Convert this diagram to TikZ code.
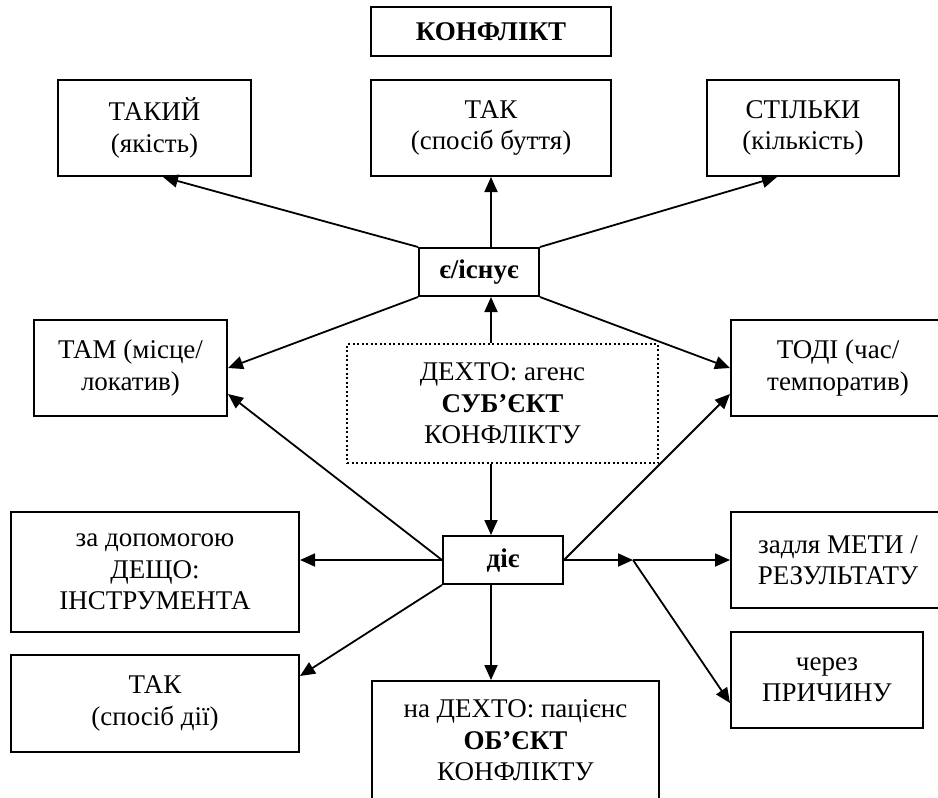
\documentclass[tikz,border=0pt]{standalone}
\usepackage{fontspec}
\setmainfont{Liberation Serif}
\usetikzlibrary{arrows.meta,calc}
\begin{document}
\begin{tikzpicture}[x=1pt,y=-1pt,
  box/.style={draw, line width=2pt, align=center, inner sep=0pt, font=\fontsize{27}{31.5}\selectfont},
  dotbox/.style={box, line width=1.7pt, dash pattern=on 2pt off 2.5pt},
  ln/.style={line width=1.8pt},
  arr/.style={ln, -{Triangle[length=15pt,width=13pt]}},
]
\useasboundingbox (0,0) rectangle (938,798);
\clip (0,0) rectangle (938,798);
\coordinate (v) at (491,0);
\node[box, minimum width=240pt, minimum height=49pt] (konf) at (491,31.5) {\textbf{КОНФЛІКТ}};
\node[box, minimum width=193pt, minimum height=96pt] (takyi) at (154.5,128) {ТАКИЙ\\(якість)};
\node[box, minimum width=240pt, minimum height=96pt] (tak1) at (491,128) {ТАК\\(спосіб буття)};
\node[box, minimum width=192pt, minimum height=96pt] (stilky) at (803,128) {СТІЛЬКИ\\(кількість)};
\node[box, minimum width=120pt, minimum height=48pt] (e) at (479,272) {\textbf{є/існує}};
\node[box, minimum width=193pt, minimum height=96pt] (tam) at (130.5,368) {ТАМ (місце/\\локатив)};
\node[box, minimum width=214pt, minimum height=96pt] (todi) at (838,368) {ТОДІ (час/\\темпоратив)};
\node[dotbox, minimum width=311pt, minimum height=119pt] (sub) at (502.5,403.5) {ДЕХТО: агенс\\\textbf{СУБ’ЄКТ}\\КОНФЛІКТУ};
\node[box, minimum width=288pt, minimum height=120pt] (zd) at (155,572) {за допомогою\\ДЕЩО:\\ІНСТРУМЕНТА};
\node[box, minimum width=120pt, minimum height=48pt] (d) at (503,560) {\textbf{діє}};
\node[box, minimum width=214pt, minimum height=96pt] (zm) at (838,560) {задля МЕТИ /\\РЕЗУЛЬТАТУ};
\node[box, minimum width=288pt, minimum height=97pt] (tak2) at (155,703.5) {ТАК\\(спосіб дії)};
\node[box, minimum width=192pt, minimum height=96pt] (pr) at (827,680) {через\\ПРИЧИНУ};
\node[box, minimum width=287pt, minimum height=119pt, anchor=north] (obj) at (515.5,680) {на ДЕХТО: пацієнс\\\textbf{ОБ’ЄКТ}\\КОНФЛІКТУ};
\coordinate (j) at (633,560);
% from є/існує
\draw[arr] (tak1.south |- e.north) -- (tak1.south);
\draw[arr] (e.north west) -- ([xshift=8.5pt]takyi.south);
\draw[arr] (e.north east) -- ([xshift=-26pt]stilky.south);
\draw[arr] (e.south west) -- (tam.east);
\draw[arr] (e.south east) -- (todi.west);
\draw[arr] (sub.north -| v) -- (e.south -| v);
% from діє
\draw[arr] (sub.south -| v) -- (d.north -| v);
\draw[arr] (d.west) -- ([yshift=23pt]tam.south east);
\draw[arr] (d.east) -- ([yshift=23pt]todi.south west);
\draw[arr] (d.west) -- (zd.east |- d.west);
\draw[arr] (d.south west) -- ([yshift=-22pt]tak2.north east);
\draw[arr] (d.south -| v) -- (obj.north -| v);
\draw[arr] (d.east) -- (j);
\draw[arr] (j) -- (zm.west);
\draw[arr] (j) -- ([yshift=26pt]pr.south west);
\end{tikzpicture}
\end{document}
